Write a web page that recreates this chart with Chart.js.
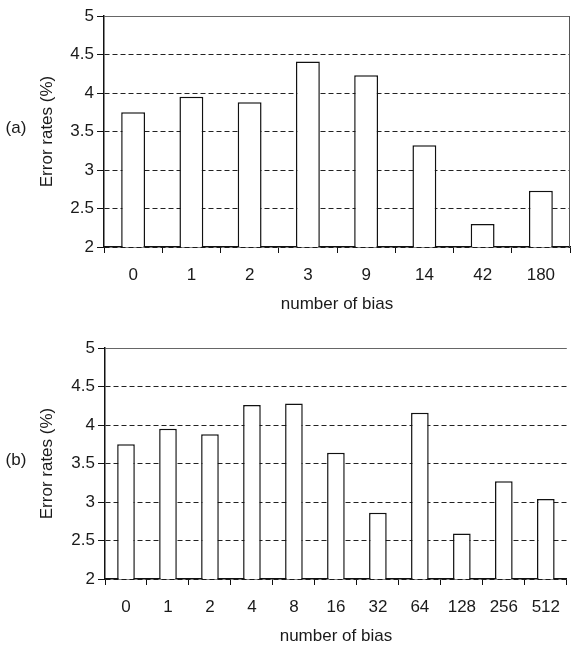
<!DOCTYPE html>
<html>
<head>
<meta charset="utf-8">
<script src="https://cdn.jsdelivr.net/npm/chart.js@4.4.0/dist/chart.umd.min.js"></script>
<style>
  body { margin: 0; background: #fff; }
  #wrap { position: relative; width: 572px; height: 648px; }
  canvas { position: absolute; left: 0; }
  .panel { position: absolute; font: 17px "Liberation Sans", Arial, sans-serif; color: #1a1a1a; transform: translate(-50%, -50%); }
</style>
</head>
<body>
<div id="wrap">
  <canvas id="chartA" width="572" height="320" style="top:0"></canvas>
  <canvas id="chartB" width="572" height="328" style="top:320px"></canvas>
  <div class="panel" style="left:16px; top:128px">(a)</div>
  <div class="panel" style="left:16px; top:460px">(b)</div>
</div>
<script>
// panel (a)
const biasA = ['0', '1', '2', '3', '9', '14', '42', '180'];
const errorA = [3.75, 3.95, 3.88, 4.41, 4.23, 3.32, 2.30, 2.73];
// panel (b)
const biasB = ['0', '1', '2', '4', '8', '16', '32', '64', '128', '256', '512'];
const errorB = [3.75, 3.95, 3.88, 4.26, 4.28, 3.64, 2.86, 4.16, 2.59, 3.27, 3.04];
// y ticks shared by both panels
const yTicks = [2, 2.5, 3, 3.5, 4, 4.5, 5];

const FONT = { family: '"Liberation Sans", Arial, sans-serif', size: 17 };
const INK = '#1a1a1a';

// thin frame line on the right side of the plot
const rightEdge = {
  id: 'rightEdge',
  afterDraw(chart, args, opts) {
    if (!opts.show) return;
    const { ctx, chartArea } = chart;
    ctx.save();
    ctx.strokeStyle = '#555';
    ctx.lineWidth = 1;
    ctx.beginPath();
    ctx.moveTo(chartArea.right - 0.5, chartArea.top);
    ctx.lineTo(chartArea.right - 0.5, chartArea.bottom);
    ctx.stroke();
    ctx.restore();
  }
};

function makeChart(id, labels, values, cfg) {
  return new Chart(document.getElementById(id), {
    type: 'bar',
    data: {
      labels: labels,
      datasets: [{
        data: values,
        backgroundColor: '#fff',
        borderColor: '#111',
        borderWidth: 1.5,
        barPercentage: cfg.barPct,
        categoryPercentage: 1
      }]
    },
    options: {
      responsive: false,
      animation: false,
      devicePixelRatio: 1,
      layout: { padding: { left: 30, top: cfg.top, right: cfg.right, bottom: 0 } },
      plugins: {
        legend: { display: false },
        tooltip: { enabled: false },
        rightEdge: { show: cfg.edge }
      },
      scales: {
        x: {
          z: 1,
          afterFit: (s) => { s.height = cfg.xHeight; },
          grid: { drawOnChartArea: false, offset: true, color: '#111', tickLength: 6 },
          border: { color: '#111', width: 1.5 },
          ticks: { color: INK, font: FONT, padding: 12, maxRotation: 0 },
          title: { display: true, text: 'number of bias', color: INK, font: FONT, padding: { top: 0, bottom: cfg.titlePad } }
        },
        y: {
          min: 2,
          max: 5,
          afterFit: (s) => { s.width = cfg.yWidth; },
          afterBuildTicks: (s) => { s.ticks = yTicks.map(v => ({ value: v })); },
          grid: {
            color: (c) => (c.tick && c.tick.value === 5) ? '#666' : '#222',
            lineWidth: 1,
            tickLength: 7,
            tickColor: '#111',
            tickBorderDash: []
          },
          border: {
            color: '#111',
            width: 1.5,
            dash: (c) => (c.tick && c.tick.value === 5) ? [] : [5, 3]
          },
          ticks: { color: INK, font: FONT, padding: 3, callback: (v) => String(v) },
          title: { display: true, text: 'Error rates (%)', color: INK, font: FONT, padding: { top: 7, bottom: 0 } }
        }
      }
    },
    plugins: [rightEdge]
  });
}

makeChart('chartA', biasA, errorA, { top: 16, right: 2, xHeight: 73, yWidth: 74, titlePad: 5, barPct: 0.41, edge: true });
makeChart('chartB', biasB, errorB, { top: 28, right: 0, xHeight: 69, yWidth: 75, titlePad: 1, barPct: 0.42, edge: false });
</script>
</body>
</html>
